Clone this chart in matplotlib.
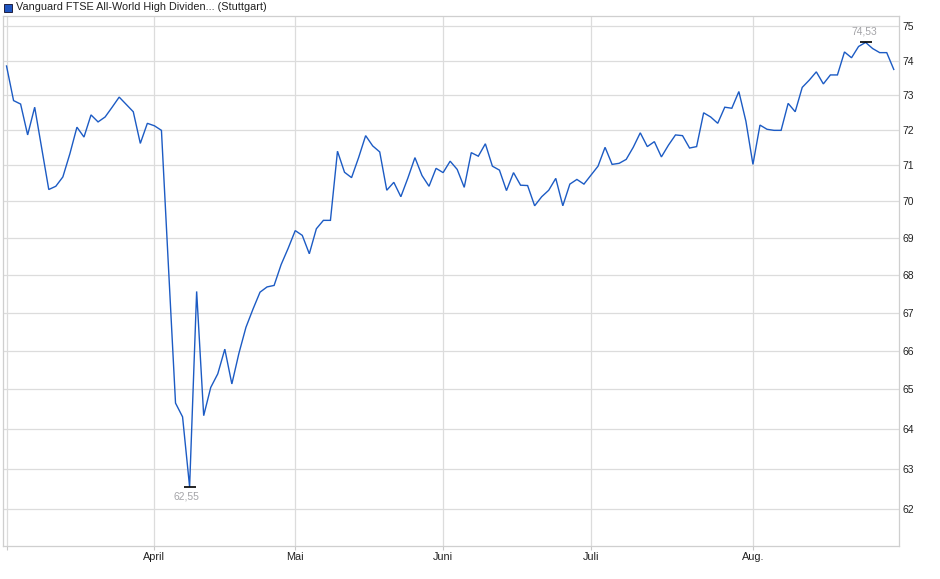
import numpy as np
import matplotlib
matplotlib.use("Agg")
import matplotlib.pyplot as plt
from matplotlib.patches import Rectangle
from matplotlib.ticker import FixedLocator, FixedFormatter, NullLocator

# ---- data (daily closing prices, trading-day index 0 = first day shown) ----
prices = [
    73.84, 72.84, 72.74, 71.86, 72.65, 71.48, 70.33, 70.42, 70.68, 71.33,
    72.08, 71.80, 72.43, 72.23, 72.37, 72.65, 72.94, 72.73, 72.52, 71.62,
    72.19, 72.12, 71.99, 68.21, 64.65, 64.30, 62.55, 67.56, 64.33, 65.05,
    65.40, 66.04, 65.14, 65.93, 66.61, 67.09, 67.54, 67.68, 67.72, 68.28,
    68.72, 69.20, 69.07, 68.57, 69.25, 69.48, 69.48, 71.40, 70.81, 70.66,
    71.22, 71.84, 71.55, 71.38, 70.31, 70.53, 70.13, 70.65, 71.22, 70.72,
    70.42, 70.92, 70.80, 71.12, 70.89, 70.39, 71.36, 71.26, 71.61, 70.98,
    70.87, 70.30, 70.80, 70.45, 70.44, 69.88, 70.13, 70.31, 70.64, 69.88,
    70.48, 70.61, 70.48, 70.73, 70.98, 71.51, 71.03, 71.06, 71.17, 71.51,
    71.92, 71.53, 71.67, 71.24, 71.57, 71.86, 71.84, 71.49, 71.53, 72.49,
    72.37, 72.19, 72.65, 72.62, 73.10, 72.25, 71.03, 72.14, 72.02, 71.99,
    71.99, 72.76, 72.52, 73.22, 73.43, 73.67, 73.32, 73.58, 73.58, 74.25,
    74.08, 74.41, 74.53, 74.35, 74.23, 74.23, 73.74,
]
month_start_idx = [0, 21, 41, 62, 83, 106]
month_labels = ["", "April", "Mai", "Juni", "Juli", "Aug."]
y_ticks = [62, 63, 64, 65, 66, 67, 68, 69, 70, 71, 72, 73, 74, 75]
title = "Vanguard FTSE All-World High Dividen... (Stuttgart)"

plt.rcParams["font.family"] = ["Liberation Sans", "DejaVu Sans"]

W, H = 940, 579
fig = plt.figure(figsize=(W / 100, H / 100), dpi=100)
fig.patch.set_facecolor("white")

left, right, top, bottom = 3, 898.7, 16, 545.5
ax = fig.add_axes([left / W, 1 - bottom / H, (right - left) / W, (bottom - top) / H])

x = np.arange(len(prices))
y = np.array(prices)
line_color = "#1c5bc4"
ax.plot(x, y, color=line_color, lw=1.0, solid_joinstyle="miter", zorder=3)

ax.set_yscale("log")
ax.set_ylim(61.12, 75.31)
ax.set_xlim(-0.5, 126.7)

ax.yaxis.set_major_locator(FixedLocator(y_ticks))
ax.yaxis.set_major_formatter(FixedFormatter([str(v) for v in y_ticks]))
ax.yaxis.set_minor_locator(NullLocator())
ax.yaxis.tick_right()
ax.tick_params(axis="y", which="both", length=0, pad=2.5, labelsize=7.5,
               labelcolor="#222222")

ax.set_xticks(month_start_idx)
ax.set_xticklabels(month_labels)
ax.xaxis.set_minor_locator(NullLocator())
ax.tick_params(axis="x", length=3, width=0.8, color="#c8c8c8", pad=1.5,
               labelsize=7.8, labelcolor="#222222")

grid_color = "#dcdcdc"
ax.grid(True, which="major", axis="both", color=grid_color, lw=0.9, zorder=0)
ax.set_axisbelow(True)
for s in ax.spines.values():
    s.set_color("#cfcfcf")
    s.set_linewidth(0.9)

# min / max annotations
imax = int(np.argmax(y))
imin = int(np.argmin(y))
lab_col = "#a4a4a8"
ax.plot([imax], [y[imax]], marker="_", ms=8, mew=1.2, color="black", zorder=4)
ax.annotate(f"{y[imax]:.2f}".replace(".", ","), (imax, y[imax]),
            xytext=(-1, 4), textcoords="offset points", ha="center", va="bottom",
            fontsize=7.4, color=lab_col)
ax.plot([imin], [y[imin]], marker="_", ms=8, mew=1.2, color="black", zorder=4)
ax.annotate(f"{y[imin]:.2f}".replace(".", ","), (imin, y[imin]),
            xytext=(-2, -3), textcoords="offset points", ha="center", va="top",
            fontsize=7.4, color=lab_col)

# legend / title
fig.patches.append(Rectangle((4 / W, 1 - 12 / H), 8 / W, 8 / H, transform=fig.transFigure,
                             facecolor="#1f55c0", edgecolor="#202040", lw=0.7))
fig.text(16 / W, 1 - 7.5 / H, title, ha="left", va="center", fontsize=7.8,
         color="#222222")

fig.savefig("out.png", dpi=100, facecolor="white")
